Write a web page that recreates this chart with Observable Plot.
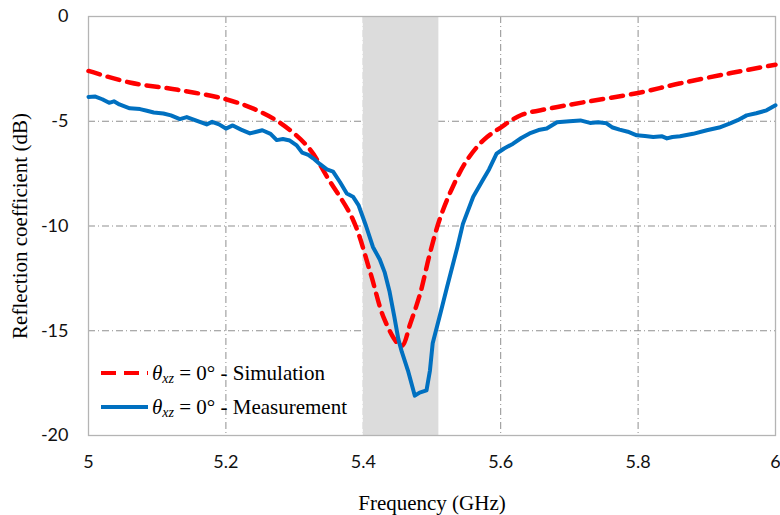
<!DOCTYPE html>
<html>
<head>
<meta charset="utf-8">
<script src="https://cdn.jsdelivr.net/npm/d3@7"></script>
<script src="https://cdn.jsdelivr.net/npm/@observablehq/plot@0.6"></script>
<style>
  html, body { margin: 0; padding: 0; background: #fff; }
  #wrap { position: relative; width: 780px; height: 515px; }
  #legend { position: absolute; left: 0; top: 0; width: 780px; height: 515px; pointer-events: none;
            font-family: "Liberation Serif", serif; font-size: 21px; color: #000; }
  #legend .row { position: absolute; left: 100px; height: 30px; display: flex; align-items: center; white-space: nowrap; }
  #legend i { font-style: italic; }
  #legend sub { font-style: italic; font-size: 14px; vertical-align: -3px; line-height: 0; }
</style>
</head>
<body>
<div id="wrap"></div>
<script>
// ---- data ----
const xTicks = [5, 5.2, 5.4, 5.6, 5.8, 6];
const yTicks = [0, -5, -10, -15, -20];
const band = [5.4, 5.51];
const xTitle = "Frequency (GHz)";
const yTitle = "Reflection coefficient (dB)";

const simFreq = [5.00, 5.06, 5.13, 5.20, 5.24, 5.28, 5.32, 5.35, 5.385, 5.41, 5.43, 5.45, 5.457, 5.468, 5.483, 5.497, 5.512, 5.53, 5.55, 5.575, 5.60, 5.63, 5.67, 5.72, 5.80, 5.86, 5.935, 6.00];
const simDb   = [-2.6, -3.15, -3.5, -3.95, -4.4, -5.1, -6.25, -7.8, -9.7, -12.2, -14.4, -15.6, -15.7, -14.7, -13.2, -11.3, -9.6, -8.15, -6.9, -5.9, -5.3, -4.7, -4.4, -4.1, -3.65, -3.2, -2.7, -2.3];

const measFreq = [5.000, 5.010, 5.020, 5.030, 5.037, 5.045, 5.060, 5.075, 5.085, 5.095, 5.109, 5.120, 5.133, 5.143, 5.155, 5.172, 5.180, 5.190, 5.200, 5.210, 5.222, 5.235, 5.253, 5.265, 5.274, 5.283, 5.293, 5.303, 5.311, 5.320, 5.327, 5.337, 5.347, 5.356, 5.366, 5.376, 5.385, 5.393, 5.404, 5.414, 5.424, 5.431, 5.438, 5.445, 5.451, 5.456, 5.465, 5.475, 5.482, 5.492, 5.497, 5.501, 5.512, 5.522, 5.537, 5.545, 5.560, 5.574, 5.583, 5.594, 5.605, 5.618, 5.630, 5.642, 5.655, 5.667, 5.682, 5.700, 5.716, 5.730, 5.742, 5.754, 5.763, 5.773, 5.785, 5.798, 5.810, 5.822, 5.835, 5.842, 5.850, 5.861, 5.880, 5.900, 5.918, 5.934, 5.945, 5.958, 5.972, 5.987, 6.000];
const measDb   = [-3.84, -3.82, -3.95, -4.12, -4.05, -4.20, -4.38, -4.42, -4.50, -4.58, -4.63, -4.72, -4.90, -4.80, -4.95, -5.15, -5.03, -5.15, -5.35, -5.20, -5.40, -5.58, -5.43, -5.60, -5.90, -5.85, -5.92, -6.15, -6.50, -6.60, -6.77, -7.05, -7.30, -7.40, -7.90, -8.45, -8.60, -9.00, -10.0, -11.0, -11.6, -12.2, -13.1, -14.3, -15.4, -16.0, -16.9, -18.1, -17.95, -17.85, -16.9, -15.6, -14.2, -12.9, -11.0, -9.9, -8.6, -7.8, -7.3, -6.55, -6.30, -6.07, -5.80, -5.58, -5.42, -5.35, -5.05, -5.00, -4.96, -5.08, -5.05, -5.10, -5.30, -5.40, -5.50, -5.67, -5.70, -5.75, -5.72, -5.82, -5.75, -5.72, -5.60, -5.43, -5.30, -5.10, -4.95, -4.72, -4.62, -4.48, -4.24];

const seriesNames = ["Simulation", "Measurement"];
const seriesColors = ["#ff0000", "#0070c0"];

// ---- build tables ----
const sim = simFreq.map((f, i) => ({f, db: simDb[i]}));
const meas = measFreq.map((f, i) => ({f, db: measDb[i]}));

const gridStyle = {stroke: "#8f8f8f", strokeOpacity: 1, strokeWidth: 1, strokeDasharray: "7,3,1,3"};

const chart = Plot.plot({
  width: 780,
  height: 515,
  marginLeft: 88,
  marginRight: 5,
  marginTop: 16,
  marginBottom: 80,
  style: {fontFamily: "Lato, sans-serif", fontSize: "18px", color: "#111", background: "#fff", overflow: "visible"},
  x: {domain: [5, 6]},
  y: {domain: [-20, 0]},
  marks: [
    Plot.gridX(xTicks.slice(1, -1), gridStyle),
    Plot.gridY(yTicks.slice(1, -1), gridStyle),
    Plot.rect([band], {x1: d => d[0], x2: d => d[1], y1: () => -20, y2: () => 0, fill: "#dcdcdc"}),
    Plot.frame({stroke: "#b4b4b4", strokeWidth: 1.3}),
    Plot.axisX(xTicks, {tickSize: 0, tickPadding: 20, tickFormat: d => String(d),
      label: xTitle, labelAnchor: "center", labelOffset: 74, labelArrow: "none"}),
    Plot.axisY(yTicks, {tickSize: 0, tickPadding: 20, tickFormat: d => String(d),
      label: yTitle, labelAnchor: "center", labelOffset: 76, labelArrow: "none"}),
    Plot.line(sim, {x: "f", y: "db", stroke: seriesColors[0], strokeWidth: 4.5, strokeDasharray: "12,8", curve: "catmull-rom"}),
    Plot.line(meas, {x: "f", y: "db", stroke: seriesColors[1], strokeWidth: 4, curve: "linear"})
  ]
});

// axis titles in a serif face, as in the reference
chart.querySelectorAll("text").forEach(t => {
  const s = t.textContent.trim();
  if (s === xTitle || s === yTitle) {
    t.style.fontFamily = '"Liberation Serif", serif';
    t.style.fontSize = "21px";
    t.style.fill = "#000";
  }
});

const wrap = document.getElementById("wrap");
wrap.appendChild(chart);

// ---- legend (HTML overlay, inside the plot area's lower left) ----
const legend = document.createElement("div");
legend.id = "legend";
const rowsTop = [358, 392];
seriesNames.forEach((name, i) => {
  const row = document.createElement("div");
  row.className = "row";
  row.style.top = rowsTop[i] + "px";
  const dash = i === 0 ? 'stroke-dasharray="15,8"' : "";
  row.innerHTML =
    `<svg width="50" height="10" style="margin-right:2px"><line x1="1" x2="48" y1="5" y2="5" stroke="${seriesColors[i]}" stroke-width="4" ${dash}/></svg>` +
    `<span><i>θ</i><sub>xz</sub> = 0° - ${name}</span>`;
  legend.appendChild(row);
});
wrap.appendChild(legend);
</script>
</body>
</html>
